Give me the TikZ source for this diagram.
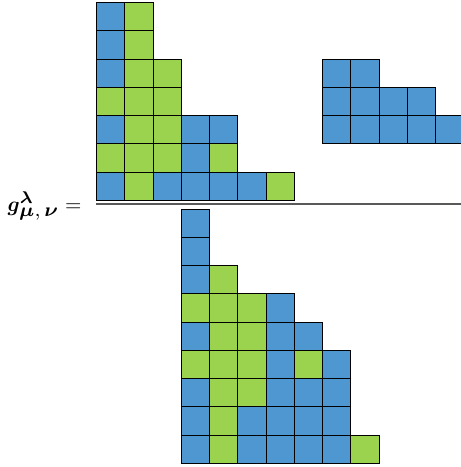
\documentclass[tikz,border=0pt]{standalone}
\usepackage{amsmath,bm}
\definecolor{cb}{HTML}{4F97D1}
\definecolor{cg}{HTML}{9BD34F}
\tikzset{cell/.style={draw=black,line width=0.9pt}}
\newcommand{\cellrow}[4]{%
  \foreach \c [count=\i from 0] in {#4} {\filldraw[cell,fill=c\c] ({#1+\i*28.25},{#2+#3*28.25}) rectangle ++(28.25,28.25);}}
\begin{document}
\begin{tikzpicture}[x=1pt,y=-1pt]
\useasboundingbox (0,0) rectangle (461,467);
\clip (0,0) rectangle (461,467);
% top diagram
\cellrow{96.5}{2.5}{0}{b,g}
\cellrow{96.5}{2.5}{1}{b,g}
\cellrow{96.5}{2.5}{2}{b,g,g}
\cellrow{96.5}{2.5}{3}{g,g,g}
\cellrow{96.5}{2.5}{4}{b,g,g,b,b}
\cellrow{96.5}{2.5}{5}{g,g,g,b,g}
\cellrow{96.5}{2.5}{6}{b,g,b,b,b,b,g}
% right diagram
\cellrow{322.5}{59}{0}{b,b}
\cellrow{322.5}{59}{1}{b,b,b,b}
\cellrow{322.5}{59}{2}{b,b,b,b,b}
% bottom diagram
\cellrow{181.25}{209}{0}{b}
\cellrow{181.25}{209}{1}{b}
\cellrow{181.25}{209}{2}{b,g}
\cellrow{181.25}{209}{3}{g,g,g,b}
\cellrow{181.25}{209}{4}{b,g,g,b,b}
\cellrow{181.25}{209}{5}{g,g,g,b,g,b}
\cellrow{181.25}{209}{6}{b,g,g,b,b,b}
\cellrow{181.25}{209}{7}{b,g,b,b,b,b}
\cellrow{181.25}{209}{8}{b,g,b,b,b,b,g}
% fraction line
\coordinate (fl) at (96,204);
\coordinate (fr) at (461,204);
\draw[black!65,line width=1.3pt] (fl) -- (fr);
% label
\node[anchor=base east,inner sep=0pt] (lbl) at (81.7,211.5) {\scalebox{2.1}{$\bm{g}^{\scalebox{1.15}{$\scriptstyle\bm{\lambda}$}}_{\scalebox{1.3}{$\scriptstyle\bm{\mu},\,\bm{\nu}$}} =$}};
\end{tikzpicture}
\end{document}
